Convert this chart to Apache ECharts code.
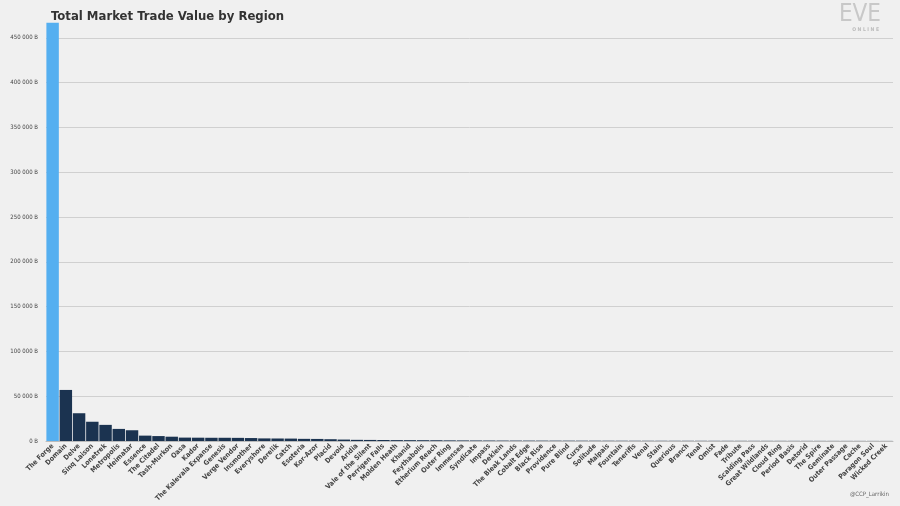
<!DOCTYPE html>
<html><head><meta charset="utf-8">
<script src="https://cdn.jsdelivr.net/npm/echarts@6/dist/echarts.min.js"></script>
<style>html,body{margin:0;background:#f0f0f0}#c{width:900px;height:506px}</style>
</head><body><div id="c"></div>
<script>
const categories = ["The Forge","Domain","Delve","Sinq Laison","Lonetrek","Metropolis","Heimatar","Essence","The Citadel","Tash-Murkon","Oasa","Kador","The Kalevala Expanse","Genesis","Verge Vendor","Insmother","Everyshore","Derelik","Catch","Esoteria","Kor-Azor","Placid","Devoid","Aridia","Vale of the Silent","Perrigen Falls","Molden Heath","Khanid","Feythabolis","Etherium Reach","Outer Ring","Immensea","Syndicate","Impass","Deklein","The Bleak Lands","Cobalt Edge","Black Rise","Providence","Pure Blind","Curse","Solitude","Malpais","Fountain","Tenerifis","Venal","Stain","Querious","Branch","Tenal","Omist","Fade","Tribute","Scalding Pass","Great Wildlands","Cloud Ring","Period Basis","Detorid","The Spire","Geminate","Outer Passage","Cache","Paragon Soul","Wicked Creek"];
const values = [467000,57000,31000,21500,18000,13500,12000,6000,5500,4800,3800,3700,3600,3600,3500,3300,2900,2800,2700,2400,2300,2000,1600,1300,1200,1100,1000,950,900,850,700,650,600,550,500,480,460,440,420,400,380,360,340,320,300,290,280,270,260,250,240,230,220,210,200,190,180,170,160,150,140,130,120,110];
const yTicks = {min:0,max:470000,interval:50000};
const font = '"DejaVu Sans Condensed","Liberation Sans Narrow",sans-serif';
const chart = echarts.init(document.getElementById('c'));
chart.setOption({
  backgroundColor:'#f0f0f0',
  animation:false,
  title:[{text:'Total Market Trade Value by Region',left:46,top:5,textStyle:{fontFamily:font,fontWeight:'bold',fontSize:13,color:'#333'}},
         {text:'EVE',right:14,top:-2,textStyle:{fontFamily:font,fontSize:24,color:'#c8c8c8',fontWeight:'normal'}},
         {text:'O N L I N E',right:16,top:22,textStyle:{fontFamily:font,fontSize:5,color:'#bbb'}},
         {text:'@CCP_Larrikin',right:6,bottom:4,textStyle:{fontFamily:font,fontSize:6,color:'#666',fontWeight:'normal'}}],
  grid:{left:46,right:7,top:20,bottom:65},
  xAxis:{type:'category',data:categories,axisTick:{show:false},axisLine:{lineStyle:{color:'#bbb'}},
    axisLabel:{interval:0,rotate:45,fontFamily:font,fontWeight:'bold',fontSize:7,color:'#444',margin:4}},
  yAxis:{type:'value',min:yTicks.min,max:yTicks.max,interval:yTicks.interval,
    axisLabel:{showMaxLabel:false,fontFamily:font,fontSize:6,color:'#444',formatter:v=>(v===0?'0':String(v).replace(/\B(?=(\d{3})+(?!\d))/g,' '))+' B'},
    splitLine:{showMaxLine:false,lineStyle:{color:'#d0d0d0'}}},
  series:[{type:'bar',data:values.map((v,i)=>({value:v,itemStyle:{color:i===0?'#55aff0':'#1b3350'}})),barCategoryGap:'6%'}]
});
</script></body></html>
